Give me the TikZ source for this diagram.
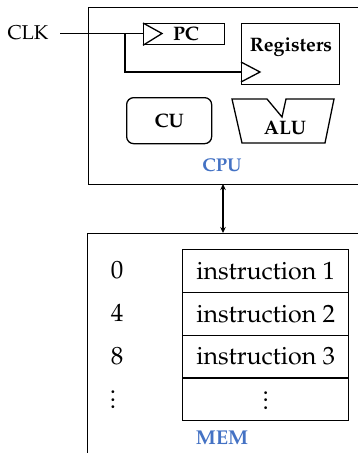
\documentclass[tikz,border=0pt]{standalone}
\usepackage[T1]{fontenc}
\usepackage{mathpazo}
\usetikzlibrary{arrows.meta}
\definecolor{lblblue}{RGB}{68,114,196}
\newcommand\tallvdots{\vbox{\baselineskip=7.5pt\lineskiplimit=0pt\hbox{.}\hbox{.}\hbox{.}}}
\begin{document}
\begin{tikzpicture}[x=1pt,y=-1pt,line width=1.3pt,
  box/.style={draw,anchor=north west,inner sep=0pt},
  bl/.style={font=\fontsize{19.5}{22}\selectfont\bfseries},
  nm/.style={font=\fontsize{20}{23}\selectfont},
  mt/.style={font=\fontsize{25}{28}\selectfont},
  cell/.style={draw,minimum width=166pt,minimum height=42.75pt,inner sep=0pt,anchor=north west,mt},
  tag/.style={font=\fontsize{18.5}{21}\selectfont\bfseries,text=lblblue}]
\useasboundingbox (0,0) rectangle (358,453);
\clip (0,0) rectangle (358,453);
% CPU
\node[box,minimum width=290pt,minimum height=177pt] (cpu) at (88,7) {};
\node[box,minimum width=81pt,minimum height=21pt] (pc) at (143,23) {};
\node[bl] (pct) at (186,33.5) {PC};
\node[box,minimum width=98pt,minimum height=61pt] (reg) at (241,23) {};
\node[bl] (regt) at (291,47) {Registers};
\draw (pc.north west) -- (162,33.5) -- (pc.south west);
\draw (241,62) -- (260,72) -- (241,82);
\node[nm] (clk) at (28,33) {CLK};
\coordinate (br) at (125,33.5);
\coordinate (brd) at (125,72);
\coordinate (regck) at (241,72);
\draw (60,33.5) -- (br) -- (pc.west |- br);
\draw (br) -- (brd) -- (regck);
\node[draw,rounded corners=7pt,minimum width=85pt,minimum height=46pt,anchor=north west,bl] (cu) at (126,97) {CU};
\draw (232,99) -- (267,99) -- (282,117) -- (286,99) -- (334,99) -- (325,143) -- (242,143) -- cycle;
\node[bl] (alu) at (285,128) {ALU};
\node[tag] (cput) at (222,165) {CPU};
% MEM
\node[box,minimum width=290pt,minimum height=240pt] (mem) at (87,233) {};
\draw[{Stealth[length=6pt,width=5.5pt]}-{Stealth[length=6pt,width=5.5pt]},line width=1.1pt] (223,184) -- (223,233);
\node[cell] (c1) at (182,249) {instruction 1};
\node[cell] (c2) at (182,291.75) {instruction 2};
\node[cell] (c3) at (182,334.5) {instruction 3};
\node[cell] (c4) at (182,377.25) {};
\node[mt,inner sep=0pt] (c4d) at ([yshift=-1pt]c4.center) {\tallvdots};
\node[mt,inner sep=0pt] (a4) at (113,400) {\tallvdots};
\node[mt] (a1) at (117,270.5) {0};
\node[mt] (a2) at (117,313) {4};
\node[mt] (a3) at (117,356) {8};
\node[tag,font=\fontsize{20}{23}\selectfont\bfseries] (memt) at (222,438) {MEM};
\end{tikzpicture}
\end{document}
